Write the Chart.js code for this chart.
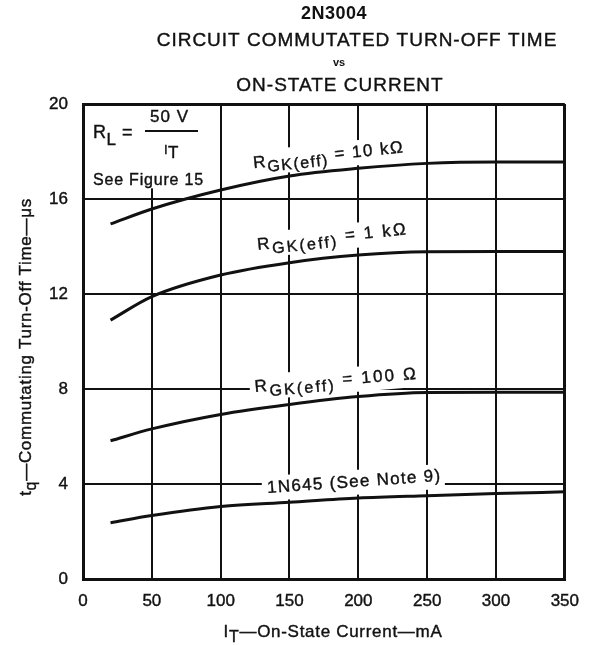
<!DOCTYPE html>
<html>
<head>
<meta charset="utf-8">
<title>2N3004 Circuit Commutated Turn-Off Time vs On-State Current</title>
<script src="https://cdn.jsdelivr.net/npm/chart.js@4.4.1/dist/chart.umd.min.js"></script>
<style>
  html, body { margin: 0; padding: 0; background: #fff; }
  #chart { display: block; }
</style>
</head>
<body>
<canvas id="chart" width="591" height="645"></canvas>
<script>
// data
const currentMA = [20, 50, 100, 150, 200, 250, 300, 350];
const tq10k   = [14.95, 15.58, 16.38, 16.97, 17.29, 17.5, 17.56, 17.56];
const tq1k    = [10.9, 11.89, 12.8, 13.32, 13.64, 13.78, 13.79, 13.79];
const tq100   = [5.82, 6.32, 6.93, 7.35, 7.68, 7.85, 7.86, 7.86];
const tq1N645 = [2.37, 2.67, 3.05, 3.23, 3.41, 3.51, 3.6, 3.67];
const seriesNames = ['RGK(eff) = 10 kΩ', 'RGK(eff) = 1 kΩ', 'RGK(eff) = 100 Ω', '1N645 (See Note 9)'];
const xTickStep = 50;
const yTickStep = 4;

const FONT = '"Liberation Sans", Arial, Helvetica, sans-serif';
const INK = '#111';

// draw a run of text pieces (for subscripts), returns width
function richText(ctx, parts, x, y, spacing) {
    let cx = x;
    ctx.strokeStyle = INK;
    ctx.lineWidth = 0.4;
    parts.forEach(p => {
        ctx.font = (p.bold ? 'bold ' : '') + p.size + 'px ' + FONT;
        ctx.letterSpacing = (spacing || 0) + 'px';
        ctx.fillText(p.t, cx, y + (p.dy || 0));
        ctx.strokeText(p.t, cx, y + (p.dy || 0));
        cx += ctx.measureText(p.t).width;
    });
    return cx - x;
}
function richWidth(ctx, parts, spacing) {
    let w = 0;
    parts.forEach(p => {
        ctx.font = (p.bold ? 'bold ' : '') + p.size + 'px ' + FONT;
        ctx.letterSpacing = (spacing || 0) + 'px';
        w += ctx.measureText(p.t).width;
    });
    return w;
}

function rgk(value) {
    return [
        { t: 'R', size: 17 },
        { t: 'GK(eff)', size: 16, dy: 5 },
        { t: ' = ' + value, size: 17 }
    ];
}

// curve labels, anchored on data coords (start of baseline)
const curveLabels = [
    { x: 124, y: 17.3, angle: -6, spacing: 1.5, parts: rgk('10 kΩ') },
    { x: 127, y: 13.85, angle: -6, spacing: 2.2, parts: rgk('1 kΩ') },
    { x: 125, y: 7.87, angle: -4.7, spacing: 2.2, parts: rgk('100 Ω') },
    { x: 134, y: 3.62, angle: -4, spacing: 1.3, parts: [{ t: '1N645 (See Note 9)', size: 17 }] }
];

const annotations = {
    id: 'annotations',
    beforeDatasetsDraw(chart) {
        const ctx = chart.ctx;
        const xs = chart.scales.x, ys = chart.scales.y;
        const area = chart.chartArea;
        ctx.save();
        ctx.fillStyle = '#fff';
        // R_L note box
        ctx.fillRect(area.left + 2, area.top + 2, xs.getPixelForValue(100) - 1 - area.left - 2, ys.getPixelForValue(16.45) - area.top - 2);
        // blank the grid behind curve labels
        curveLabels.forEach(l => {
            const w = richWidth(ctx, l.parts, l.spacing);
            ctx.save();
            ctx.translate(xs.getPixelForValue(l.x), ys.getPixelForValue(l.y));
            ctx.rotate(l.angle * Math.PI / 180);
            ctx.fillRect(-5, -17, w + 8, 25);
            ctx.restore();
        });
        ctx.restore();
    },
    afterDraw(chart) {
        const ctx = chart.ctx;
        const xs = chart.scales.x, ys = chart.scales.y;
        ctx.save();
        ctx.fillStyle = INK;
        ctx.strokeStyle = INK;
        ctx.lineWidth = 0.4;
        ctx.textBaseline = 'middle';
        ctx.textAlign = 'center';

        // titles
        ctx.font = 'bold 18px ' + FONT;
        ctx.letterSpacing = '0.5px';
        ctx.fillText('2N3004', 334, 14);
        ctx.font = '19px ' + FONT;
        ctx.letterSpacing = '1px';
        ctx.fillText('CIRCUIT COMMUTATED TURN-OFF TIME', 357, 41);
        ctx.strokeText('CIRCUIT COMMUTATED TURN-OFF TIME', 357, 41);
        ctx.font = 'bold 11px ' + FONT;
        ctx.letterSpacing = '0px';
        ctx.fillText('vs', 339, 63);
        ctx.font = '19px ' + FONT;
        ctx.letterSpacing = '1px';
        ctx.fillText('ON-STATE CURRENT', 340, 86);
        ctx.strokeText('ON-STATE CURRENT', 340, 86);

        ctx.textAlign = 'left';
        ctx.textBaseline = 'alphabetic';

        // x axis title
        const xt = [
            { t: 'I', size: 17 },
            { t: 'T', size: 16, dy: 5 },
            { t: '—On-State Current—mA', size: 17 }
        ];
        const xw = richWidth(ctx, xt, 0.7);
        richText(ctx, xt, 333 - xw / 2, 637, 0.7);

        // y axis title
        const yt = [
            { t: 't', size: 17 },
            { t: 'q', size: 16, dy: 5 },
            { t: '—Commutating Turn-Off Time—μs', size: 17 }
        ];
        const yw = richWidth(ctx, yt, 0.7);
        ctx.save();
        ctx.translate(31, 347);
        ctx.rotate(-Math.PI / 2);
        richText(ctx, yt, -yw / 2, 0, 0.7);
        ctx.restore();

        // R_L note
        richText(ctx, [{ t: 'R', size: 18 }, { t: 'L', size: 17, dy: 7 }, { t: ' =', size: 18 }], 93, 138, 0.5);
        richText(ctx, [{ t: '50 V', size: 17 }], 150, 122, 1);
        ctx.fillRect(145, 130, 53, 2);
        richText(ctx, [{ t: 'I', size: 13, dy: -4 }, { t: 'T', size: 17 }], 164, 158, 0.5);
        richText(ctx, [{ t: 'See Figure 15', size: 16 }], 93, 185, 0.8);

        // curve labels
        curveLabels.forEach(l => {
            ctx.save();
            ctx.translate(xs.getPixelForValue(l.x), ys.getPixelForValue(l.y));
            ctx.rotate(l.angle * Math.PI / 180);
            richText(ctx, l.parts, 0, 0, l.spacing);
            ctx.restore();
        });
        ctx.restore();
    }
};

function edgeWidth(c) {
    const s = c.scale;
    return (c.tick && (c.tick.value === s.min || c.tick.value === s.max)) ? 3 : 2;
}

const ctx = document.getElementById('chart').getContext('2d');
const curveStyle = { borderColor: INK, borderWidth: 3, pointRadius: 0, cubicInterpolationMode: 'monotone', fill: false };

new Chart(ctx, {
    type: 'line',
    data: {
        labels: currentMA,
        datasets: [
            Object.assign({ label: seriesNames[0], data: tq10k }, curveStyle),
            Object.assign({ label: seriesNames[1], data: tq1k }, curveStyle),
            Object.assign({ label: seriesNames[2], data: tq100 }, curveStyle),
            Object.assign({ label: seriesNames[3], data: tq1N645 }, curveStyle)
        ]
    },
    options: {
        responsive: false,
        animation: false,
        layout: { padding: { top: 104, right: 23, left: 0, bottom: 0 } },
        plugins: {
            legend: { display: false },
            tooltip: { enabled: false },
            title: { display: false }
        },
        scales: {
            x: {
                type: 'linear',
                min: 0,
                max: 350,
                afterFit(scale) { scale.height = 66; },
                ticks: {
                    stepSize: xTickStep,
                    color: INK,
                    padding: 12,
                    maxRotation: 0,
                    textStrokeColor: INK,
                    textStrokeWidth: 0.4,
                    font: { family: FONT, size: 17 }
                },
                grid: { color: INK, lineWidth: edgeWidth, drawTicks: false },
                border: { display: true, color: INK, width: 3 }
            },
            y: {
                min: 0,
                max: 20,
                afterFit(scale) { scale.width = 83; },
                ticks: {
                    stepSize: yTickStep,
                    color: INK,
                    padding: 15,
                    textStrokeColor: INK,
                    textStrokeWidth: 0.4,
                    font: { family: FONT, size: 17 }
                },
                grid: { color: INK, lineWidth: edgeWidth, drawTicks: false },
                border: { display: true, color: INK, width: 3 }
            }
        }
    },
    plugins: [annotations]
});
</script>
</body>
</html>
